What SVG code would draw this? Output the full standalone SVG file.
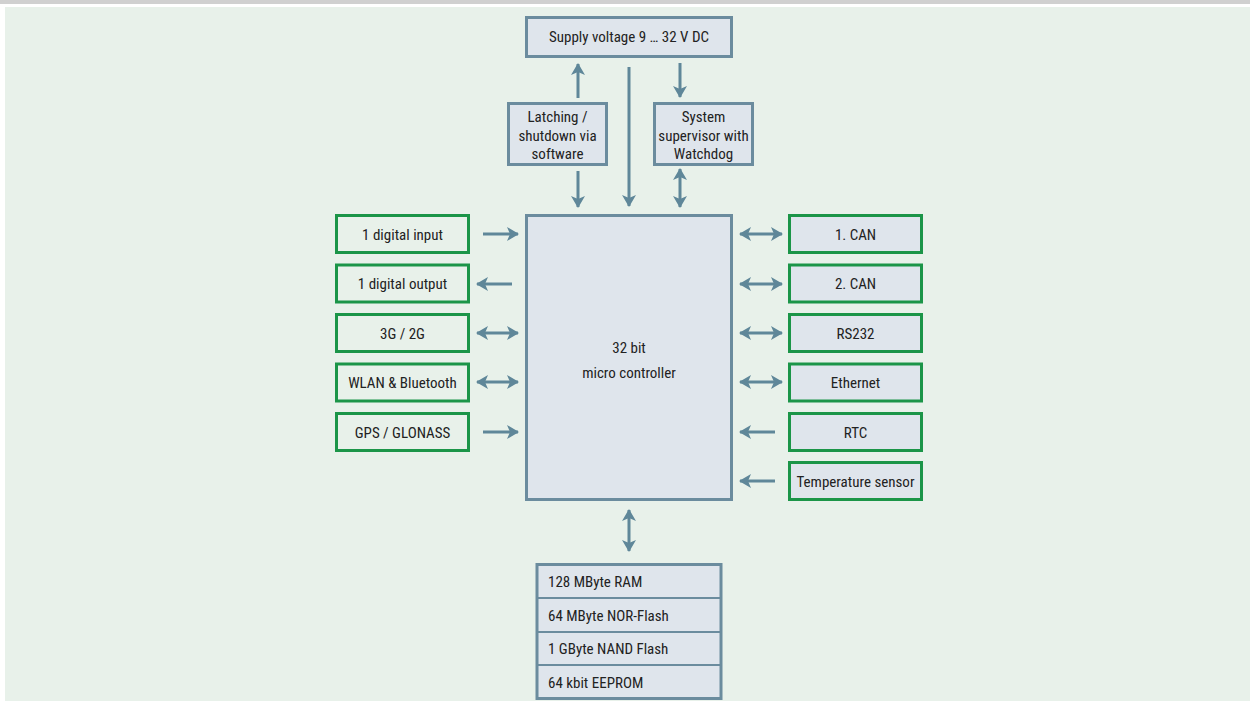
<svg xmlns="http://www.w3.org/2000/svg" width="1250" height="701" viewBox="0 0 1250 701">
<style>
.t{font-family:"Liberation Sans Narrow","Roboto Condensed",sans-serif;font-size:15px;fill:#222;}
.c{text-anchor:middle;}
.bb{fill:#dfe5ec;stroke:#6b8c9e;stroke-width:3;}
.gl{fill:#e8f1ea;stroke:#1b9548;stroke-width:3;}
.gr{fill:#dfe5ec;stroke:#1b9548;stroke-width:3;}
.a{stroke:#5f8799;stroke-width:3;fill:none;}
.mm{fill:#dfe5ec;stroke:#6b8c9e;stroke-width:2;}
</style>
<defs>
<marker id="ah" viewBox="0 0 12 14" refX="11" refY="7" markerWidth="12" markerHeight="14" markerUnits="userSpaceOnUse" orient="auto-start-reverse">
<path d="M0,0 L12,7 L0,14 L3,7 z" fill="#5f8799"/>
</marker>
</defs>
<rect x="0" y="0" width="1250" height="701" fill="#ffffff"/>
<rect x="0" y="0" width="1250" height="4" fill="#d0d0d0"/>
<rect x="5" y="7" width="1245" height="694" fill="#e8f1ea"/>

<g id="connectors">
<line class="a" x1="578" y1="98" x2="578" y2="64" marker-end="url(#ah)"/>
<line class="a" x1="629" y1="67" x2="629" y2="206" marker-end="url(#ah)"/>
<line class="a" x1="680" y1="63" x2="680" y2="97" marker-end="url(#ah)"/>
<line class="a" x1="578" y1="171" x2="578" y2="207" marker-end="url(#ah)"/>
<line class="a" x1="680" y1="169" x2="680" y2="207" marker-start="url(#ah)" marker-end="url(#ah)"/>
<line class="a" x1="483" y1="234" x2="518" y2="234" marker-end="url(#ah)"/>
<line class="a" x1="512" y1="284" x2="477" y2="284" marker-end="url(#ah)"/>
<line class="a" x1="477" y1="333" x2="518" y2="333" marker-start="url(#ah)" marker-end="url(#ah)"/>
<line class="a" x1="477" y1="382" x2="518" y2="382" marker-start="url(#ah)" marker-end="url(#ah)"/>
<line class="a" x1="483" y1="432" x2="518" y2="432" marker-end="url(#ah)"/>
<line class="a" x1="740" y1="234" x2="782" y2="234" marker-start="url(#ah)" marker-end="url(#ah)"/>
<line class="a" x1="740" y1="284" x2="782" y2="284" marker-start="url(#ah)" marker-end="url(#ah)"/>
<line class="a" x1="740" y1="333" x2="782" y2="333" marker-start="url(#ah)" marker-end="url(#ah)"/>
<line class="a" x1="740" y1="382" x2="782" y2="382" marker-start="url(#ah)" marker-end="url(#ah)"/>
<line class="a" x1="775" y1="432" x2="740" y2="432" marker-end="url(#ah)"/>
<line class="a" x1="775" y1="481" x2="740" y2="481" marker-end="url(#ah)"/>
<line class="a" x1="629" y1="510" x2="629" y2="551" marker-start="url(#ah)" marker-end="url(#ah)"/>
</g>

<g id="supply">
<rect class="bb" x="526.5" y="17.5" width="205" height="39"/>
<text class="t c" x="629" y="42">Supply voltage 9 … 32 V DC</text>
</g>
<g id="latching">
<rect class="bb" x="508.5" y="103.5" width="98" height="61"/>
<text class="t c" x="557.5" y="121.5">Latching /</text>
<text class="t c" x="557.5" y="140.5">shutdown via</text>
<text class="t c" x="557.5" y="158.5">software</text>
</g>
<g id="supervisor">
<rect class="bb" x="654.5" y="103.5" width="98" height="61"/>
<text class="t c" x="703.5" y="121.5">System</text>
<text class="t c" x="703.5" y="140.5">supervisor with</text>
<text class="t c" x="703.5" y="158.5">Watchdog</text>
</g>
<g id="mcu">
<rect class="bb" x="526.5" y="215.5" width="205" height="284"/>
<text class="t c" x="629" y="352.5">32 bit</text>
<text class="t c" x="629" y="377.5">micro controller</text>
</g>

<g id="din"><rect class="gl" x="336.5" y="215.5" width="132" height="37"/><text class="t c" x="402.5" y="239.5">1 digital input</text></g>
<g id="dout"><rect class="gl" x="336.5" y="265" width="132" height="37"/><text class="t c" x="402.5" y="289">1 digital output</text></g>
<g id="g3g"><rect class="gl" x="336.5" y="314.5" width="132" height="37"/><text class="t c" x="402.5" y="338.5">3G / 2G</text></g>
<g id="wlan"><rect class="gl" x="336.5" y="364" width="132" height="37"/><text class="t c" x="402.5" y="388">WLAN &amp; Bluetooth</text></g>
<g id="gps"><rect class="gl" x="336.5" y="413.5" width="132" height="37"/><text class="t c" x="402.5" y="437.5">GPS / GLONASS</text></g>

<g id="can1"><rect class="gr" x="789.5" y="215.5" width="132" height="37"/><text class="t c" x="855.5" y="239.5">1. CAN</text></g>
<g id="can2"><rect class="gr" x="789.5" y="265" width="132" height="37"/><text class="t c" x="855.5" y="289">2. CAN</text></g>
<g id="rs232"><rect class="gr" x="789.5" y="314.5" width="132" height="37"/><text class="t c" x="855.5" y="338.5">RS232</text></g>
<g id="eth"><rect class="gr" x="789.5" y="364" width="132" height="37"/><text class="t c" x="855.5" y="388">Ethernet</text></g>
<g id="rtc"><rect class="gr" x="789.5" y="413.5" width="132" height="37"/><text class="t c" x="855.5" y="437.5">RTC</text></g>
<g id="temp"><rect class="gr" x="789.5" y="462.5" width="132" height="37"/><text class="t c" x="855.5" y="486.5">Temperature sensor</text></g>

<g id="memory">
<rect class="bb" x="537" y="564.5" width="184" height="134"/>
<line class="mm" x1="537" y1="598" x2="721" y2="598"/>
<line class="mm" x1="537" y1="632" x2="721" y2="632"/>
<line class="mm" x1="537" y1="665" x2="721" y2="665"/>
<text class="t" x="548" y="586.5">128 MByte RAM</text>
<text class="t" x="548" y="620.5">64 MByte NOR-Flash</text>
<text class="t" x="548" y="654">1 GByte NAND Flash</text>
<text class="t" x="548" y="687.5">64 kbit EEPROM</text>
</g>
</svg>
